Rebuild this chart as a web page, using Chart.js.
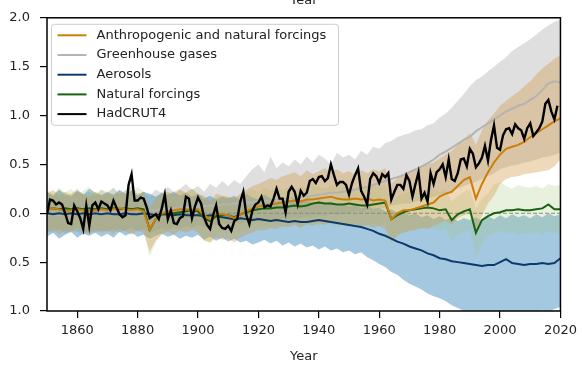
<!DOCTYPE html>
<html>
<head>
<meta charset="utf-8">
<script src="https://cdn.jsdelivr.net/npm/chart.js@4"></script>
<style>
  html, body { margin: 0; padding: 0; background: #ffffff; }
  #wrap { width: 582px; height: 365px; }
</style>
</head>
<body>
<div id="wrap"><canvas id="chart" width="582" height="365"></canvas></div>
<script>
// Anomalias de temperatura (°C) — observações e médias dos modelos por forçante

const X_TICKS = [1860, 1880, 1900, 1920, 1940, 1960, 1980, 2000, 2020]
const Y_TICKS = [-1.0, -0.5, 0.0, 0.5, 1.0, 1.5, 2.0]

// HadCRUT4, anual 1850–2019
const HAD_START = 1850
const hadcrut4 = [
  -0.01, 0.14, 0.13, 0.09, 0.11, 0.09, 0.00, -0.10, -0.11, 0.08,
  0.02, -0.05, -0.16, 0.08, -0.13, 0.08, 0.11, 0.04, 0.12, 0.10,
  0.08, 0.03, 0.13, 0.06, -0.01, -0.04, -0.02, 0.29, 0.40, 0.13,
  0.13, 0.16, 0.15, 0.06, -0.05, -0.03, -0.01, -0.06, 0.05, 0.19,
  -0.06, 0.03, -0.10, -0.11, -0.05, -0.03, 0.17, 0.15, -0.05, 0.07,
  0.16, 0.10, -0.04, -0.12, -0.16, -0.02, 0.08, -0.11, -0.15, -0.16,
  -0.13, -0.18, -0.08, -0.06, 0.12, 0.22, -0.02, -0.11, 0.03, 0.09,
  0.11, 0.17, 0.06, 0.08, 0.07, 0.15, 0.25, 0.15, 0.15, 0.01,
  0.22, 0.27, 0.22, 0.09, 0.23, 0.18, 0.21, 0.33, 0.35, 0.31,
  0.37, 0.38, 0.33, 0.36, 0.50, 0.39, 0.29, 0.32, 0.32, 0.29,
  0.19, 0.31, 0.39, 0.46, 0.23, 0.17, 0.09, 0.35, 0.41, 0.38,
  0.31, 0.40, 0.37, 0.41, 0.14, 0.22, 0.29, 0.29, 0.25, 0.39,
  0.33, 0.17, 0.30, 0.42, 0.15, 0.21, 0.12, 0.41, 0.30, 0.42,
  0.45, 0.50, 0.37, 0.55, 0.35, 0.33, 0.41, 0.55, 0.56, 0.48,
  0.66, 0.61, 0.47, 0.51, 0.57, 0.69, 0.54, 0.75, 0.90, 0.67,
  0.65, 0.80, 0.86, 0.87, 0.81, 0.91, 0.87, 0.85, 0.76, 0.87,
  0.92, 0.79, 0.83, 0.87, 0.94, 1.12, 1.16, 1.04, 0.96, 1.10
]

// modelos: um valor a cada 2 anos, 1850–2020
const MODEL_START = 1850
const MODEL_STEP = 2

const allMean = [
  0.03, 0.05, 0.04, 0.02, 0.03, 0.04, 0.03, 0.02, 0.03, 0.04,
  0.03, 0.04, 0.05, 0.04, 0.03, 0.04, 0.02, -0.17, -0.06, 0.00,
  0.02, 0.03, 0.04, 0.04, 0.03, 0.04, -0.02, -0.06, 0.00, -0.01,
  -0.02, -0.05, -0.01, 0.02, 0.05, 0.07, 0.08, 0.09, 0.10, 0.11,
  0.12, 0.13, 0.12, 0.14, 0.14, 0.15, 0.16, 0.17, 0.15, 0.14,
  0.14, 0.15, 0.14, 0.15, 0.13, 0.14, 0.13, -0.06, 0.00, 0.03,
  0.03, 0.05, 0.07, 0.09, 0.11, 0.17, 0.20, 0.22, 0.28, 0.34,
  0.37, 0.15, 0.30, 0.42, 0.52, 0.60, 0.66, 0.68, 0.70, 0.73,
  0.78, 0.82, 0.86, 0.90, 0.94, 0.97
]
const allUpper = [
  0.20, 0.24, 0.18, 0.22, 0.19, 0.23, 0.20, 0.17, 0.22, 0.19,
  0.21, 0.18, 0.23, 0.20, 0.24, 0.19, 0.22, 0.05, 0.15, 0.20,
  0.22, 0.19, 0.24, 0.21, 0.25, 0.20, 0.18, 0.12, 0.20, 0.18,
  0.17, 0.15, 0.20, 0.24, 0.28, 0.30, 0.33, 0.36, 0.34, 0.38,
  0.40, 0.42, 0.38, 0.44, 0.40, 0.43, 0.46, 0.42, 0.45, 0.41,
  0.43, 0.40, 0.44, 0.41, 0.45, 0.43, 0.46, 0.30, 0.36, 0.40,
  0.42, 0.45, 0.48, 0.50, 0.52, 0.56, 0.60, 0.64, 0.70, 0.76,
  0.82, 0.70, 0.85, 0.95, 1.02, 1.10, 1.15, 1.20, 1.24, 1.30,
  1.35, 1.42, 1.48, 1.53, 1.58, 1.62
]
const allLower = [
  -0.20, -0.16, -0.22, -0.18, -0.20, -0.15, -0.19, -0.22, -0.17, -0.20,
  -0.18, -0.21, -0.16, -0.19, -0.22, -0.17, -0.20, -0.39, -0.28, -0.22,
  -0.19, -0.22, -0.18, -0.20, -0.17, -0.20, -0.28, -0.30, -0.25, -0.27,
  -0.26, -0.30, -0.25, -0.22, -0.20, -0.17, -0.18, -0.15, -0.16, -0.13,
  -0.14, -0.12, -0.15, -0.11, -0.13, -0.10, -0.12, -0.09, -0.11, -0.12,
  -0.13, -0.11, -0.14, -0.12, -0.15, -0.13, -0.16, -0.30, -0.22, -0.20,
  -0.18, -0.17, -0.15, -0.16, -0.13, -0.10, -0.08, -0.12, -0.05, -0.02,
  0.00, -0.20, -0.02, 0.10, 0.18, 0.30, 0.35, 0.37, 0.38, 0.40,
  0.41, 0.42, 0.43, 0.44, 0.48, 0.55
]

const ghgMean = [
  -0.02, -0.01, -0.02, 0.00, -0.01, 0.00, 0.00, 0.01, 0.00, 0.01,
  0.01, 0.02, 0.01, 0.02, 0.02, 0.03, 0.02, 0.03, 0.03, 0.04,
  0.04, 0.05, 0.05, 0.06, 0.06, 0.07, 0.07, 0.08, 0.08, 0.09,
  0.09, 0.10, 0.10, 0.11, 0.11, 0.12, 0.12, 0.13, 0.14, 0.14,
  0.15, 0.16, 0.17, 0.17, 0.18, 0.19, 0.20, 0.21, 0.21, 0.22,
  0.23, 0.24, 0.26, 0.27, 0.29, 0.31, 0.33, 0.35, 0.37, 0.39,
  0.42, 0.45, 0.48, 0.51, 0.55, 0.60, 0.63, 0.67, 0.71, 0.75,
  0.78, 0.84, 0.88, 0.92, 0.96, 1.00, 1.04, 1.07, 1.10, 1.12,
  1.16, 1.20, 1.26, 1.33, 1.35, 1.34
]
const ghgUpper = [
  0.22, 0.18, 0.24, 0.17, 0.20, 0.25, 0.19, 0.22, 0.18, 0.24,
  0.20, 0.26, 0.19, 0.23, 0.28, 0.20, 0.22, 0.18, 0.24, 0.21,
  0.27, 0.22, 0.25, 0.30, 0.24, 0.28, 0.22, 0.30, 0.26, 0.33,
  0.28, 0.34, 0.30, 0.38, 0.45, 0.50, 0.42, 0.58, 0.46, 0.52,
  0.48, 0.55, 0.50, 0.58, 0.52, 0.60, 0.56, 0.50, 0.62, 0.57,
  0.60, 0.55, 0.64, 0.60, 0.68, 0.66, 0.72, 0.74, 0.78, 0.80,
  0.82, 0.85, 0.86, 0.90, 0.92, 0.98, 1.02, 1.08, 1.15, 1.22,
  1.30, 1.36, 1.40, 1.45, 1.50, 1.55, 1.60, 1.66, 1.70, 1.74,
  1.78, 1.83, 1.88, 1.92, 1.96, 1.98
]
const ghgLower = [
  -0.18, -0.20, -0.16, -0.21, -0.17, -0.19, -0.22, -0.18, -0.20, -0.17,
  -0.19, -0.16, -0.20, -0.17, -0.15, -0.19, -0.16, -0.20, -0.18, -0.15,
  -0.17, -0.14, -0.16, -0.13, -0.15, -0.12, -0.14, -0.11, -0.13, -0.10,
  -0.12, -0.09, -0.11, -0.08, -0.10, -0.07, -0.09, -0.06, -0.08, -0.05,
  -0.06, -0.04, -0.05, -0.03, -0.04, -0.02, -0.03, -0.01, -0.02, 0.00,
  0.00, 0.02, 0.01, 0.04, 0.03, 0.06, 0.05, 0.08, 0.09, 0.10,
  0.10, 0.12, 0.13, 0.15, 0.17, 0.19, 0.21, 0.23, 0.25, 0.28,
  0.30, 0.32, 0.35, 0.38, 0.41, 0.45, 0.47, 0.49, 0.50, 0.52,
  0.53, 0.55, 0.57, 0.58, 0.60, 0.62
]

const aerMean = [
  0.00, -0.01, 0.00, -0.01, 0.00, -0.01, 0.00, -0.01, 0.00, -0.01,
  0.00, -0.01, -0.01, 0.00, -0.01, -0.01, 0.00, -0.01, -0.02, -0.01,
  -0.01, -0.02, -0.01, -0.02, -0.02, -0.02, -0.03, -0.02, -0.03, -0.04,
  -0.05, -0.06, -0.05, -0.06, -0.07, -0.06, -0.07, -0.08, -0.07, -0.08,
  -0.09, -0.08, -0.09, -0.09, -0.08, -0.07, -0.08, -0.09, -0.10, -0.11,
  -0.12, -0.13, -0.14, -0.16, -0.18, -0.21, -0.23, -0.26, -0.29, -0.31,
  -0.34, -0.36, -0.38, -0.41, -0.43, -0.46, -0.47, -0.49, -0.50, -0.51,
  -0.52, -0.53, -0.54, -0.53, -0.53, -0.50, -0.47, -0.51, -0.52, -0.53,
  -0.52, -0.52, -0.51, -0.52, -0.51, -0.46
]
const aerUpper = [
  0.22, 0.18, 0.24, 0.20, 0.17, 0.23, 0.19, 0.25, 0.21, 0.18,
  0.22, 0.19, 0.24, 0.20, 0.23, 0.18, 0.22, 0.20, 0.17, 0.21,
  0.19, 0.22, 0.18, 0.21, 0.17, 0.20, 0.15, 0.18, 0.14, 0.17,
  0.15, 0.18, 0.13, 0.20, 0.16, 0.14, 0.19, 0.15, 0.12, 0.16,
  0.13, 0.15, 0.11, 0.14, 0.10, 0.13, 0.09, 0.12, 0.08, 0.10,
  0.07, 0.09, 0.05, 0.08, 0.04, 0.06, 0.02, 0.04, 0.00, 0.01,
  -0.02, 0.00, -0.04, -0.02, -0.06, -0.03, -0.07, -0.04, -0.08, -0.05,
  -0.07, -0.04, -0.08, -0.03, -0.06, -0.02, -0.05, -0.01, -0.04, -0.02,
  -0.05, -0.01, -0.04, 0.00, -0.03, -0.01
]
const aerLower = [
  -0.24, -0.20, -0.26, -0.22, -0.19, -0.25, -0.21, -0.23, -0.20, -0.24,
  -0.21, -0.25, -0.19, -0.23, -0.20, -0.24, -0.22, -0.26, -0.23, -0.21,
  -0.24, -0.22, -0.26, -0.23, -0.25, -0.22, -0.27, -0.24, -0.28, -0.25,
  -0.29, -0.26, -0.30, -0.28, -0.32, -0.30, -0.27, -0.31, -0.28, -0.33,
  -0.30, -0.34, -0.31, -0.35, -0.33, -0.37, -0.34, -0.38, -0.36, -0.40,
  -0.38, -0.42, -0.40, -0.45, -0.48, -0.52, -0.55, -0.60, -0.63, -0.68,
  -0.72, -0.75, -0.78, -0.82, -0.85, -0.87, -0.90, -0.94, -0.97, -1.00,
  -1.02, -1.05, -1.04, -1.06, -1.03, -1.05, -1.02, -1.04, -1.01, -1.03,
  -1.00, -1.02, -0.99, -1.01, -0.98, -0.96
]

const natMean = [
  0.04, 0.05, 0.04, 0.05, 0.04, 0.05, 0.04, 0.05, 0.04, 0.05,
  0.04, 0.05, 0.04, 0.05, 0.04, 0.05, 0.04, -0.17, -0.06, -0.01,
  -0.01, 0.00, 0.01, 0.02, 0.03, 0.02, -0.05, -0.08, -0.03, -0.02,
  -0.02, -0.04, -0.01, 0.01, 0.03, 0.04, 0.05, 0.05, 0.06, 0.06,
  0.07, 0.08, 0.07, 0.08, 0.10, 0.11, 0.10, 0.10, 0.09, 0.09,
  0.10, 0.09, 0.08, 0.08, 0.09, 0.10, 0.11, -0.06, -0.02, 0.01,
  0.03, 0.04, 0.05, 0.06, 0.05, 0.03, 0.04, -0.07, -0.01, 0.02,
  0.04, -0.20, -0.07, -0.03, 0.00, 0.01, 0.03, 0.03, 0.04, 0.03,
  0.03, 0.04, 0.05, 0.09, 0.04, 0.04
]
const natUpper = [
  0.24, 0.20, 0.26, 0.21, 0.25, 0.19, 0.23, 0.27, 0.20, 0.24,
  0.22, 0.26, 0.20, 0.24, 0.21, 0.27, 0.22, 0.05, 0.14, 0.20,
  0.22, 0.19, 0.24, 0.21, 0.25, 0.20, 0.12, 0.10, 0.16, 0.18,
  0.17, 0.14, 0.20, 0.22, 0.25, 0.21, 0.26, 0.23, 0.27, 0.24,
  0.27, 0.24, 0.28, 0.25, 0.30, 0.27, 0.25, 0.29, 0.26, 0.28,
  0.27, 0.25, 0.29, 0.26, 0.28, 0.27, 0.30, 0.12, 0.17, 0.20,
  0.22, 0.25, 0.23, 0.26, 0.24, 0.22, 0.25, 0.12, 0.18, 0.22,
  0.24, 0.05, 0.15, 0.20, 0.30, 0.32, 0.28, 0.25, 0.29, 0.27,
  0.26, 0.28, 0.25, 0.30, 0.28, 0.29
]
const natLower = [
  -0.16, -0.19, -0.14, -0.18, -0.15, -0.20, -0.16, -0.13, -0.18, -0.15,
  -0.17, -0.14, -0.19, -0.15, -0.18, -0.14, -0.17, -0.44, -0.30, -0.20,
  -0.19, -0.17, -0.15, -0.18, -0.14, -0.17, -0.27, -0.30, -0.22, -0.20,
  -0.21, -0.25, -0.19, -0.17, -0.14, -0.16, -0.13, -0.15, -0.12, -0.14,
  -0.13, -0.11, -0.14, -0.12, -0.10, -0.13, -0.11, -0.12, -0.14, -0.12,
  -0.11, -0.14, -0.12, -0.13, -0.11, -0.12, -0.10, -0.30, -0.24, -0.20,
  -0.18, -0.16, -0.15, -0.14, -0.16, -0.18, -0.16, -0.28, -0.22, -0.19,
  -0.17, -0.46, -0.32, -0.24, -0.20, -0.18, -0.21, -0.19, -0.22, -0.20,
  -0.21, -0.19, -0.22, -0.18, -0.20, -0.21
]

// cores
const COR_ALL = '#cc7f08'
const COR_GHG = '#b3b3b3'
const COR_AER = '#0c3a6b'
const COR_NAT = '#196211'
const COR_OBS = '#000000'

const FONTE = '"DejaVu Sans", sans-serif'

function serie(values, start, step) {
  return values.map((v, i) => ({ x: start + i * step, y: v }))
}
const modelo = v => serie(v, MODEL_START, MODEL_STEP)

function faixa(lower, upper, fillColor, order) {
  return [
    { data: modelo(lower), borderWidth: 0, pointRadius: 0, fill: false, order: order },
    { data: modelo(upper), borderWidth: 0, pointRadius: 0, fill: '-1', backgroundColor: fillColor, order: order }
  ]
}

function linha(data, color, width, order) {
  return { data: data, borderColor: color, borderWidth: width, pointRadius: 0, fill: false, tension: 0, order: order }
}

const legendItems = [
  { label: 'Anthropogenic and natural forcings', color: COR_ALL },
  { label: 'Greenhouse gases', color: COR_GHG },
  { label: 'Aerosols', color: COR_AER },
  { label: 'Natural forcings', color: COR_NAT },
  { label: 'HadCRUT4', color: COR_OBS }
]

// moldura, título de cima e legenda
const molduraPlugin = {
  id: 'moldura',
  afterDraw(chart) {
    const ctx = chart.ctx
    const a = chart.chartArea
    ctx.save()

    ctx.strokeStyle = '#000'
    ctx.lineWidth = 1.5
    ctx.strokeRect(a.left, a.top, a.right - a.left, a.bottom - a.top)

    ctx.fillStyle = '#222'
    ctx.font = '13px ' + FONTE
    ctx.textAlign = 'center'
    ctx.textBaseline = 'alphabetic'
    ctx.fillText('Year', (a.left + a.right) / 2, 4)

    // legenda
    const bx = a.left + 4.5, by = a.top + 6.5, bw = 287, bh = 101
    ctx.beginPath()
    ctx.roundRect(bx, by, bw, bh, 3)
    ctx.fillStyle = 'rgba(255,255,255,0.85)'
    ctx.fill()
    ctx.strokeStyle = '#cccccc'
    ctx.lineWidth = 1
    ctx.stroke()

    ctx.textAlign = 'left'
    ctx.textBaseline = 'middle'
    legendItems.forEach((item, i) => {
      const y = by + 11 + i * 19.7
      ctx.beginPath()
      ctx.moveTo(bx + 6, y)
      ctx.lineTo(bx + 35, y)
      ctx.strokeStyle = item.color
      ctx.lineWidth = 2
      ctx.stroke()
      ctx.fillStyle = '#222'
      ctx.fillText(item.label, bx + 45, y)
    })
    ctx.restore()
  }
}

const ctx = document.getElementById('chart').getContext('2d')

new Chart(ctx, {
  type: 'line',
  data: {
    datasets: [
      linha(serie(hadcrut4, HAD_START, 1), COR_OBS, 2.4, 1),
      linha(modelo(allMean), COR_ALL, 2, 2),
      linha(modelo(natMean), COR_NAT, 2, 3),
      linha(modelo(aerMean), COR_AER, 2, 4),
      linha(modelo(ghgMean), COR_GHG, 2, 5),
      // linha do zero
      { data: [{ x: 1850, y: 0 }, { x: 2020, y: 0 }], borderColor: '#8a8a8a', borderWidth: 1,
        borderDash: [4, 2], pointRadius: 0, fill: false, order: 6 },
      ...faixa(allLower, allUpper, 'rgba(205,150,60,0.35)', 7),
      ...faixa(natLower, natUpper, 'rgba(160,200,120,0.25)', 8),
      ...faixa(aerLower, aerUpper, 'rgba(75,145,195,0.5)', 9),
      ...faixa(ghgLower, ghgUpper, 'rgba(185,185,185,0.45)', 10)
    ]
  },
  options: {
    responsive: false,
    animation: false,
    layout: { padding: { top: 12, right: 19, left: 0, bottom: 0 } },
    plugins: {
      legend: { display: false },
      tooltip: { enabled: false },
      title: { display: false }
    },
    scales: {
      x: {
        type: 'linear',
        min: 1850,
        max: 2020,
        afterBuildTicks: s => { s.ticks = X_TICKS.map(v => ({ value: v })) },
        afterFit: s => { s.height = 54 },
        grid: { display: true, drawOnChartArea: false, drawTicks: true, tickLength: 7, color: '#000', lineWidth: 1.2 },
        border: { display: false },
        ticks: { color: '#222', font: { family: FONTE, size: 13 }, padding: 5, maxRotation: 0, callback: v => String(v) },
        title: { display: true, text: 'Year', color: '#222', font: { family: FONTE, size: 13 }, padding: { top: 0, bottom: 1 } }
      },
      y: {
        type: 'linear',
        min: -1,
        max: 2,
        afterBuildTicks: s => { s.ticks = Y_TICKS.map(v => ({ value: v })) },
        afterFit: s => { s.width = 47 },
        grid: { display: true, drawOnChartArea: false, drawTicks: true, tickLength: 7, color: '#000', lineWidth: 1.2 },
        border: { display: false },
        ticks: { color: '#222', font: { family: FONTE, size: 13 }, padding: 10, callback: v => Math.abs(v).toFixed(1) }
      }
    }
  },
  plugins: [molduraPlugin]
})
</script>
</body>
</html>
